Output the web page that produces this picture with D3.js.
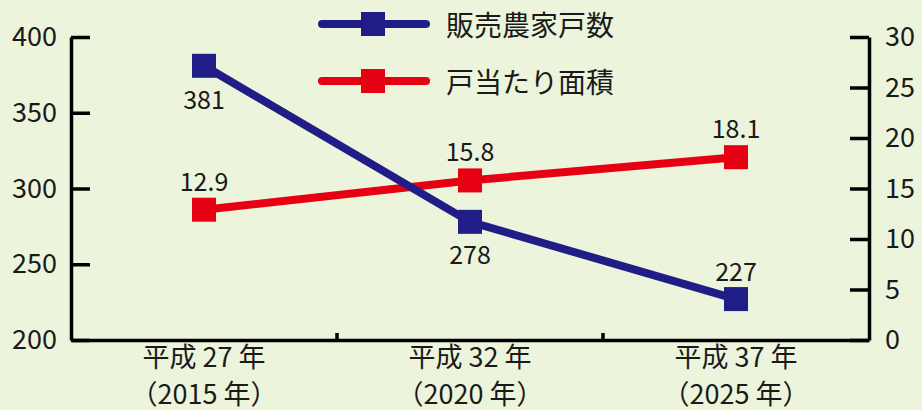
<!DOCTYPE html>
<html>
<head>
<meta charset="utf-8">
<script src="https://cdn.jsdelivr.net/npm/d3@7"></script>
<style>
  html, body { margin: 0; padding: 0; background: #ecf4db; }
  svg { display: block; }
  text { font-family: "Noto Sans CJK JP", "Noto Sans", sans-serif; fill: #1a1a1a; }
</style>
</head>
<body>
<svg id="chart" width="922" height="410"></svg>
<script>
// Categories (two-line labels)
const categories = ["平成 27 年", "平成 32 年", "平成 37 年"];
const categorySub = ["（2015 年）", "（2020 年）", "（2025 年）"];

// Series
const farmHouseholds = [381, 278, 227];     // 販売農家戸数 (left axis)
const areaPerHousehold = [12.9, 15.8, 18.1]; // 戸当たり面積 (right axis)

// Tick values
const leftTicks = [200, 250, 300, 350, 400];
const rightTicks = [0, 5, 10, 15, 20, 25, 30];

const seriesNames = ["販売農家戸数", "戸当たり面積"];
const colors = { blue: "#201d86", red: "#e60012" };

const W = 922, H = 410;
const margin = { left: 71, right: 53, top: 37, bottom: 70 };
const plotW = W - margin.left - margin.right;
const plotH = H - margin.top - margin.bottom;

const svg = d3.select("#chart");
const g = svg.append("g").attr("transform", `translate(${margin.left},${margin.top})`);

const xBand = d3.scaleBand().domain(categories).range([0, plotW]).paddingInner(0).paddingOuter(0);
const xc = d => xBand(d) + xBand.bandwidth() / 2;
const yL = d3.scaleLinear().domain([200, 400]).range([plotH, 0]);
const yR = d3.scaleLinear().domain([0, 30]).range([plotH, 0]);

// Left axis
const axL = g.append("g")
  .call(d3.axisLeft(yL).tickValues(leftTicks).tickSizeInner(-19).tickSizeOuter(0).tickPadding(14));
// Right axis
const axR = g.append("g").attr("transform", `translate(${plotW},0)`)
  .call(d3.axisRight(yR).tickValues(rightTicks).tickSizeInner(-19).tickSizeOuter(0).tickPadding(16));

[axL, axR].forEach(ax => {
  ax.select(".domain").attr("stroke", "#000").attr("stroke-width", 3.5);
  ax.selectAll(".tick line").attr("stroke", "#000").attr("stroke-width", 3.5);
  ax.selectAll(".tick text").attr("font-size", 27).attr("fill", "#1a1a1a")
    .attr("font-family", "'Noto Sans CJK JP', 'Noto Sans', sans-serif");
});

// Bottom axis: baseline, category separators, two-line labels
const axB = g.append("g").attr("transform", `translate(0,${plotH})`)
  .call(d3.axisBottom(xBand).tickSize(0).tickPadding(0));
axB.select(".domain").attr("stroke", "#000").attr("stroke-width", 3.5);
axB.selectAll(".tick text").each(function(d) {
  const t = d3.select(this).text(null).attr("y", 0).attr("dy", null)
    .attr("font-size", 27).attr("fill", "#1a1a1a")
    .attr("font-family", "'Noto Sans CJK JP', sans-serif");
  t.append("tspan").attr("x", 0).attr("y", 15).attr("dominant-baseline", "central").text(d);
  t.append("tspan").attr("x", 0).attr("y", 52).attr("dominant-baseline", "central")
    .text(categorySub[categories.indexOf(d)]);
});
axB.selectAll(".sep").data(categories.slice(1)).join("line")
  .attr("class", "sep")
  .attr("x1", d => xBand(d)).attr("x2", d => xBand(d))
  .attr("y1", 0).attr("y2", -7)
  .attr("stroke", "#000").attr("stroke-width", 3.5);

// Lines
const lineL = d3.line().x((d, i) => xc(categories[i])).y(d => yL(d));
const lineR = d3.line().x((d, i) => xc(categories[i])).y(d => yR(d));

g.append("path").datum(areaPerHousehold).attr("d", lineR)
  .attr("fill", "none").attr("stroke", colors.red).attr("stroke-width", 8);
g.append("path").datum(farmHouseholds).attr("d", lineL)
  .attr("fill", "none").attr("stroke", colors.blue).attr("stroke-width", 8);

const sq = 24;
g.selectAll(".mR").data(areaPerHousehold).join("rect")
  .attr("x", (d, i) => xc(categories[i]) - sq / 2).attr("y", d => yR(d) - sq / 2)
  .attr("width", sq).attr("height", sq).attr("fill", colors.red);
g.selectAll(".mL").data(farmHouseholds).join("rect")
  .attr("x", (d, i) => xc(categories[i]) - sq / 2).attr("y", d => yL(d) - sq / 2)
  .attr("width", sq).attr("height", sq).attr("fill", colors.blue);

// Value labels
const blueOffset = [32, 31, -29];
g.selectAll(".lL").data(farmHouseholds).join("text")
  .attr("x", (d, i) => xc(categories[i]))
  .attr("y", (d, i) => yL(d) + blueOffset[i])
  .attr("text-anchor", "middle").attr("dominant-baseline", "central")
  .attr("font-size", 25).text(d => d);
g.selectAll(".lR").data(areaPerHousehold).join("text")
  .attr("x", (d, i) => xc(categories[i]))
  .attr("y", d => yR(d) - 30)
  .attr("text-anchor", "middle").attr("dominant-baseline", "central")
  .attr("font-size", 25).text(d => d.toFixed(1));

// Legend
const legend = svg.append("g");
const legendRows = [
  { name: seriesNames[0], color: colors.blue, y: 24 },
  { name: seriesNames[1], color: colors.red, y: 81 }
];
legendRows.forEach(r => {
  legend.append("line").attr("x1", 322).attr("x2", 426).attr("y1", r.y).attr("y2", r.y)
    .attr("stroke", r.color).attr("stroke-width", 8).attr("stroke-linecap", "round");
  legend.append("rect").attr("x", 361).attr("y", r.y - 12).attr("width", 24).attr("height", 24)
    .attr("fill", r.color);
  legend.append("text").attr("x", 446).attr("y", r.y).attr("dominant-baseline", "central")
    .attr("font-size", 28).text(r.name);
});
</script>
</body>
</html>
